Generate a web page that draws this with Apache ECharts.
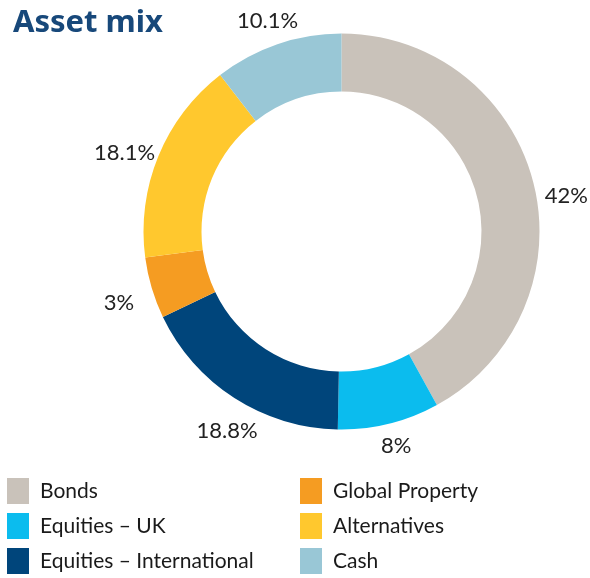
<!DOCTYPE html>
<html>
<head>
<meta charset="utf-8">
<script src="https://cdn.jsdelivr.net/npm/echarts@6/dist/echarts.min.js"></script>
<style>
  html, body { margin: 0; padding: 0; background: #fff; }
  #chart { width: 590px; height: 578px; }
</style>
</head>
<body>
<div id="chart"></div>
<script>
// categories and values
const categories = ['Bonds', 'Equities – UK', 'Equities – International', 'Global Property', 'Alternatives', 'Cash'];
// slice sizes as drawn (degrees measured / 3.6)
const shares = [42, 8.3, 17.6, 5, 16.6, 10.5];
// percentages printed next to the slices
const printed = ['42%', '8%', '18.8%', '3%', '18.1%', '10.1%'];
const colors = ['#c9c2ba', '#0bbcee', '#00457b', '#f59c22', '#ffc82e', '#99c7d6'];

const CX = 341.5, CY = 231.5, R0 = 140, R = 198;
const LABEL_R = 228;
// hand placement of the printed labels, like the original
const nudge = [[4, 21], [0, -7], [9, 8], [-4, 6], [-6, 8], [0, 5]];

var myChart = echarts.init(document.getElementById('chart'), null, { renderer: 'canvas' });

const total = shares.reduce((a, b) => a + b, 0);
function midAngle(i) {
    let before = 0;
    for (let k = 0; k < i; k++) before += shares[k];
    return (before + shares[i] / 2) / total * 2 * Math.PI;
}

const legendText = {
    fontFamily: 'Lato',
    fontSize: 21,
    color: '#1a1a1a',
    padding: [0, 0, 0, 6]
};

const legendBase = {
    orient: 'vertical',
    top: 478,
    icon: 'rect',
    itemWidth: 22,
    itemHeight: 26,
    itemGap: 9,
    padding: 0,
    textStyle: legendText
};

var option = {
    title: {
        text: 'Asset mix',
        left: 8,
        top: 3,
        textStyle: {
            fontFamily: 'Noto Sans',
            fontSize: 31,
            fontWeight: 'bold',
            color: '#17487a'
        }
    },
    color: colors,
    legend: [
        Object.assign({}, legendBase, { data: categories.slice(0, 3), left: 7 }),
        Object.assign({}, legendBase, { data: categories.slice(3), left: 300 })
    ],
    series: [
        {
            type: 'pie',
            center: [CX, CY],
            radius: [R0, R],
            startAngle: 90,
            clockwise: true,
            silent: true,
            data: categories.map((name, i) => ({ name: name, value: shares[i] })),
            itemStyle: { borderWidth: 0 },
            label: {
                show: true,
                position: 'inside',
                formatter: (p) => printed[p.dataIndex],
                fontFamily: 'Lato',
                fontSize: 22,
                color: '#222222'
            },
            labelLine: { show: false },
            labelLayout: function (params) {
                const i = params.dataIndex;
                const a = midAngle(i);
                return {
                    x: CX + LABEL_R * Math.sin(a) + nudge[i][0],
                    y: CY - LABEL_R * Math.cos(a) + nudge[i][1],
                    align: 'center',
                    verticalAlign: 'middle'
                };
            }
        }
    ]
};
myChart.setOption(option);
</script>
</body>
</html>
